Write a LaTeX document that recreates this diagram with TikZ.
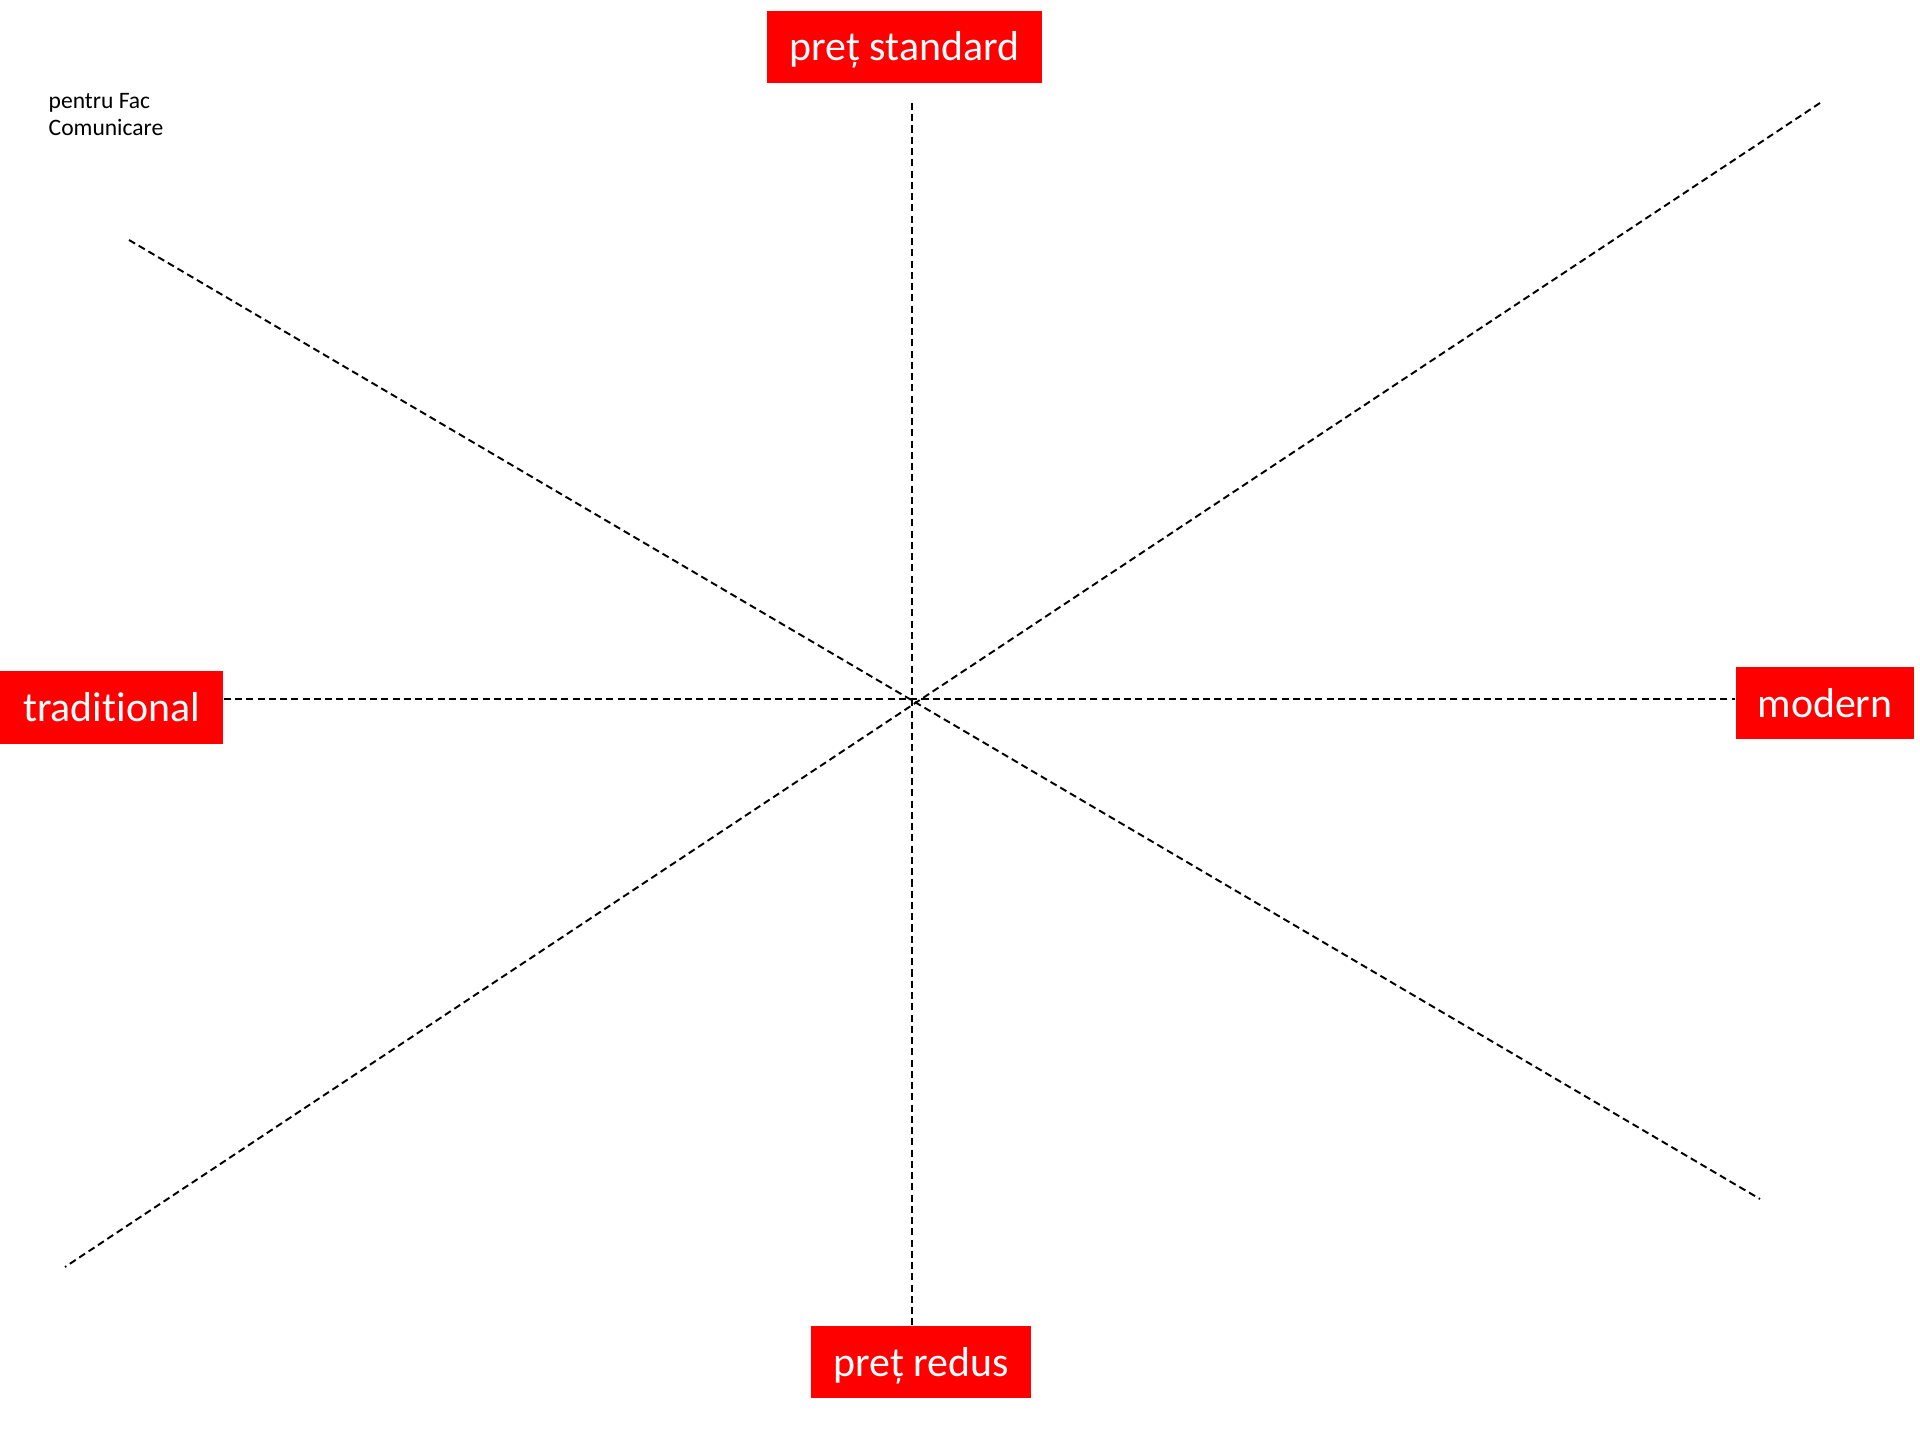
\documentclass[tikz,border=0pt]{standalone}
\usepackage{fontspec}
\setmainfont[Ligatures=NoCommon]{Carlito}
\usetikzlibrary{calc}

\begin{document}
\begin{tikzpicture}[x=0.01cm,y=-0.01cm]
    % Define colours
    \definecolor{boxColour}{HTML}{FF0000}
    \definecolor{lineColour}{HTML}{000000}

    % Styles for the labels and the axes
    \tikzset{
      label box/.style={fill=boxColour, text=white, inner sep=0pt,
        text height=0.5cm, text depth=0.22cm,
        font=\fontsize{11.9}{14}\selectfont},
      axis line/.style={draw=lineColour, line width=0.55pt,
        dash pattern=on 2pt off 1.2pt}
    }

  % Fix the page size
  \useasboundingbox (0,0) rectangle (1920,1440);

  % Centre of the cross and free ends of the diagonals
  \coordinate (centre) at (912,699);
  \coordinate (topEnd) at (912,103);
  \coordinate (diagTL) at (129,240);
  \coordinate (diagBR) at (1760,1199);
  \coordinate (diagTR) at (1820,103);
  \coordinate (diagBL) at (65,1267);

  % The four labels
  \node[label box, minimum width=2.75cm] (standard) at (904.5,47) {preț standard};
  \node[label box, minimum width=2.23cm] (traditional) at (111.5,707.5) {traditional};
  \node[label box, minimum width=1.78cm] (modern) at (1825,703) {modern};
  \node[label box, minimum width=2.20cm] (redus) at (921,1362) {preț redus};

  % Small note in the corner
  \node[anchor=north west, inner sep=0pt, align=left,
    font=\fontsize{6.7}{7.7}\selectfont] (note) at (48,93) {pentru Fac\\Comunicare};

  % Draw the axes
  \draw[axis line] (topEnd) -- (topEnd |- redus.north);
  \draw[axis line] (traditional.east |- centre) -- (modern.west |- centre);
  \draw[axis line] (diagTL) -- (diagBR);
  \draw[axis line] (diagTR) -- (diagBL);

\end{tikzpicture}
\end{document}
